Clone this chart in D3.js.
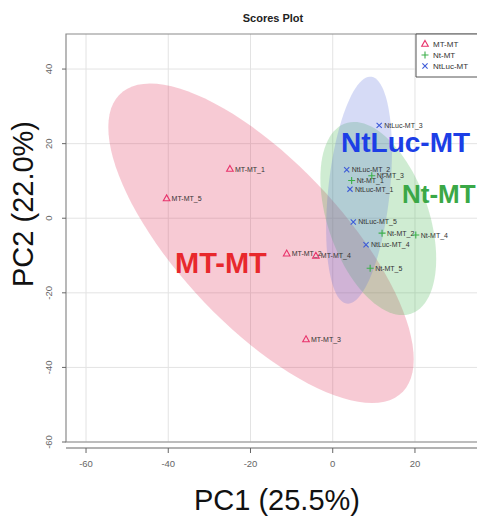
<!DOCTYPE html>
<html><head><meta charset="utf-8">
<script src="https://cdn.jsdelivr.net/npm/d3@7/dist/d3.min.js"></script>
<style>body{margin:0;background:#fff;} svg{display:block;font-family:"Liberation Sans",Arial,sans-serif;}</style>
</head><body>
<svg id="c" width="477" height="516"></svg>
<script>
const groups = ["MT-MT", "Nt-MT", "NtLuc-MT"];
const mtLabels = ["MT-MT_1","MT-MT_2","MT-MT_3","MT-MT_4","MT-MT_5"];
const mtPC1 = [-25.0, -11.2, -6.5, -4.1, -40.4];
const mtPC2 = [13.2, -9.5, -32.5, -10.1, 5.3];
const ntLabels = ["Nt-MT_1","Nt-MT_2","Nt-MT_3","Nt-MT_4","Nt-MT_5"];
const ntPC1 = [4.6, 12.0, 9.5, 20.2, 9.1];
const ntPC2 = [10.1, -4.0, 11.4, -4.5, -13.4];
const lucLabels = ["NtLuc-MT_1","NtLuc-MT_2","NtLuc-MT_3","NtLuc-MT_4","NtLuc-MT_5"];
const lucPC1 = [4.2, 3.4, 11.3, 8.1, 5.0];
const lucPC2 = [7.8, 13.0, 24.9, -7.1, -1.0];
const xTicks = [-60, -40, -20, 0, 20];
const yTicks = [-60, -40, -20, 0, 20, 40];
const title = "Scores Plot";
const xTitle = "PC1 (25.5%)";
const yTitle = "PC2 (22.0%)";

const svg = d3.select("#c");
const L = 66, T = 34, R = 490, B = 442;
const x = d3.scaleLinear().domain([-64.87, 38.25]).range([L, R]);
const y = d3.scaleLinear().domain([49.4, -60]).range([T, B]);

const series = [
  {name: groups[0], labels: mtLabels, xs: mtPC1, ys: mtPC2, pt: "#e8336b", fill: "rgba(226,50,90,0.26)", big: "#e8282c", shape: "tri"},
  {name: groups[1], labels: ntLabels, xs: ntPC1, ys: ntPC2, pt: "#3cb04a", fill: "rgba(70,180,80,0.26)", big: "#3aa847", shape: "plus"},
  {name: groups[2], labels: lucLabels, xs: lucPC1, ys: lucPC2, pt: "#3c5ad8", fill: "rgba(90,110,220,0.25)", big: "#1c3ee6", shape: "x"}
];

svg.append("defs").append("clipPath").attr("id","pc").append("rect")
  .attr("x", L).attr("y", T).attr("width", R-L).attr("height", B-T);

// grid
const g = svg.append("g");
g.selectAll(".gx").data(xTicks).join("line")
  .attr("x1", d=>x(d)).attr("x2", d=>x(d)).attr("y1", T).attr("y2", B)
  .attr("stroke", "#e3e3e3").attr("stroke-width", 1);
g.selectAll(".gy").data(yTicks).join("line")
  .attr("y1", d=>y(d)).attr("y2", d=>y(d)).attr("x1", L).attr("x2", R)
  .attr("stroke", "#e3e3e3").attr("stroke-width", 1);

// 95% confidence ellipses (computed from group scores)
const tq = Math.sqrt(5.991464547);
function ellipsePts(xs, ys){
  const n = xs.length, mx = d3.mean(xs), my = d3.mean(ys);
  const sx = d3.deviation(xs), sy = d3.deviation(ys);
  let c = 0; for (let i=0;i<n;i++) c += (xs[i]-mx)*(ys[i]-my);
  c /= (n-1);
  const r = c/(sx*sy), dd = Math.acos(r);
  return d3.range(0, 101).map(i => {
    const a = i/100*2*Math.PI;
    return [mx + tq*sx*Math.cos(a + dd/2), my + tq*sy*Math.cos(a - dd/2)];
  });
}
const eg = svg.append("g").attr("clip-path", "url(#pc)");
const line = d3.line().x(d=>x(d[0])).y(d=>y(d[1])).curve(d3.curveLinearClosed);
series.forEach(s => {
  eg.append("path").attr("d", line(ellipsePts(s.xs, s.ys))).attr("fill", s.fill).attr("stroke", "none");
});

// box
svg.append("path").attr("d", `M${R},${T}H${L}V${B}H${R}`).attr("fill","none").attr("stroke","#8a8a8a").attr("stroke-width",1.2);

// axes
const ax = svg.append("g").attr("fill", "#666").attr("font-size", 9.5);
ax.append("line").attr("x1", L).attr("x2", 477).attr("y1", 448).attr("y2", 448).attr("stroke", "#666").attr("stroke-width", 1.2);
xTicks.forEach(t => {
  ax.append("line").attr("x1", x(t)).attr("x2", x(t)).attr("y1", 448).attr("y2", 453).attr("stroke", "#666");
  ax.append("text").attr("x", x(t)).attr("y", 467).attr("text-anchor","middle").text(t);
});
yTicks.forEach(t => {
  ax.append("line").attr("x1", 62).attr("x2", L).attr("y1", y(t)).attr("y2", y(t)).attr("stroke", "#666");
  ax.append("text").attr("transform", `translate(52,${y(t)}) rotate(-90)`).attr("text-anchor","middle").text(t);
});

// points
const pg = svg.append("g");
function drawShape(sel, shape, color){
  if (shape === "tri") sel.append("path").attr("d","M0,-3.6L3.3,2.3L-3.3,2.3Z").attr("fill","none").attr("stroke",color).attr("stroke-width",1.1);
  else if (shape === "plus") sel.append("path").attr("d","M-3.5,0H3.5M0,-3.5V3.5").attr("stroke",color).attr("stroke-width",1.1);
  else sel.append("path").attr("d","M-2.6,-2.6L2.6,2.6M-2.6,2.6L2.6,-2.6").attr("stroke",color).attr("stroke-width",1.1);
}
series.forEach(s => {
  s.xs.forEach((v, i) => {
    const gg = pg.append("g").attr("transform", `translate(${x(v)},${y(s.ys[i])})`);
    drawShape(gg, s.shape, s.pt);
    gg.append("text").attr("x", 5).attr("y", 2.5).attr("font-size", 7).attr("fill", "#333").text(s.labels[i]);
  });
});

// big group labels
const big = [
  {t: groups[2], x: 341, y: 152, s: 28, c: series[2].big},
  {t: groups[1], x: 402, y: 203, s: 26, c: series[1].big},
  {t: groups[0], x: 175, y: 273, s: 29, c: series[0].big}
];
svg.append("g").selectAll("text").data(big).join("text")
  .attr("x", d=>d.x).attr("y", d=>d.y).attr("font-size", d=>d.s).attr("font-weight","bold")
  .attr("fill", d=>d.c).text(d=>d.t);

// legend
const lg = svg.append("g");
lg.append("path").attr("d", `M${R},${T}H416V77H${R}`).attr("fill","#fff").attr("stroke","#555").attr("stroke-width",1);
series.forEach((s, i) => {
  const gg = lg.append("g").attr("transform", `translate(425,${44 + i*11})`);
  drawShape(gg, s.shape, s.pt);
  gg.append("text").attr("x", 8).attr("y", 3).attr("font-size", 8).attr("fill", "#333").text(s.name);
});

// titles
svg.append("text").attr("x", 273).attr("y", 22).attr("text-anchor","middle").attr("font-size", 11).attr("font-weight","bold").attr("fill","#222").text(title);
svg.append("text").attr("x", 277).attr("y", 510).attr("text-anchor","middle").attr("font-size", 29).attr("fill","#111").text(xTitle);
svg.append("text").attr("transform", "translate(33,204) rotate(-90)").attr("text-anchor","middle").attr("font-size", 29).attr("fill","#111").text(yTitle);
</script>
</body></html>
